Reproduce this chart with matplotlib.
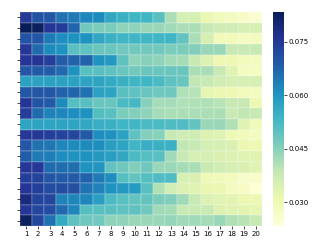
import numpy as np
import matplotlib
matplotlib.use("Agg")
import matplotlib.pyplot as plt
import seaborn as sns

# column labels along the bottom
col_labels = [str(i) for i in range(1, 21)]

# one list per heatmap row, top to bottom
row00 = [0.0744, 0.0702, 0.0696, 0.0654, 0.0642, 0.0624, 0.0618, 0.0564, 0.0546, 0.0534, 0.0534, 0.0503, 0.0413, 0.0353, 0.0353, 0.0311, 0.0293, 0.0281, 0.0269, 0.0251]
row01 = [0.0834, 0.0822, 0.0756, 0.0744, 0.0672, 0.0473, 0.0461, 0.0461, 0.0443, 0.0443, 0.0431, 0.0431, 0.0425, 0.0413, 0.0413, 0.0383, 0.0371, 0.0365, 0.0353, 0.0353]
row02 = [0.0702, 0.0696, 0.0642, 0.0612, 0.0606, 0.0606, 0.0564, 0.0546, 0.0534, 0.0534, 0.0534, 0.0534, 0.0534, 0.0491, 0.0413, 0.0353, 0.0293, 0.0293, 0.0281, 0.0281]
row03 = [0.0750, 0.0666, 0.0618, 0.0606, 0.0503, 0.0497, 0.0485, 0.0485, 0.0473, 0.0473, 0.0473, 0.0473, 0.0461, 0.0461, 0.0455, 0.0431, 0.0431, 0.0383, 0.0383, 0.0383]
row04 = [0.0756, 0.0756, 0.0738, 0.0684, 0.0678, 0.0678, 0.0606, 0.0594, 0.0497, 0.0443, 0.0449, 0.0443, 0.0425, 0.0419, 0.0383, 0.0341, 0.0305, 0.0305, 0.0293, 0.0281]
row05 = [0.0696, 0.0690, 0.0684, 0.0666, 0.0606, 0.0503, 0.0503, 0.0497, 0.0485, 0.0473, 0.0485, 0.0485, 0.0485, 0.0485, 0.0413, 0.0413, 0.0383, 0.0335, 0.0281, 0.0281]
row06 = [0.0576, 0.0576, 0.0576, 0.0576, 0.0576, 0.0570, 0.0570, 0.0558, 0.0546, 0.0534, 0.0534, 0.0521, 0.0497, 0.0485, 0.0389, 0.0383, 0.0365, 0.0353, 0.0353, 0.0353]
row07 = [0.0696, 0.0696, 0.0696, 0.0678, 0.0672, 0.0654, 0.0576, 0.0570, 0.0503, 0.0497, 0.0485, 0.0479, 0.0479, 0.0407, 0.0401, 0.0323, 0.0311, 0.0305, 0.0293, 0.0281]
row08 = [0.0756, 0.0702, 0.0690, 0.0618, 0.0509, 0.0503, 0.0485, 0.0485, 0.0521, 0.0527, 0.0449, 0.0419, 0.0419, 0.0407, 0.0407, 0.0407, 0.0401, 0.0383, 0.0383, 0.0305]
row09 = [0.0738, 0.0666, 0.0630, 0.0624, 0.0612, 0.0606, 0.0509, 0.0503, 0.0461, 0.0455, 0.0443, 0.0419, 0.0413, 0.0413, 0.0413, 0.0413, 0.0413, 0.0377, 0.0389, 0.0383]
row10 = [0.0570, 0.0570, 0.0570, 0.0570, 0.0570, 0.0564, 0.0552, 0.0546, 0.0534, 0.0534, 0.0521, 0.0521, 0.0515, 0.0515, 0.0491, 0.0431, 0.0431, 0.0407, 0.0335, 0.0293]
row11 = [0.0750, 0.0750, 0.0738, 0.0732, 0.0726, 0.0690, 0.0612, 0.0606, 0.0576, 0.0497, 0.0455, 0.0449, 0.0383, 0.0371, 0.0371, 0.0341, 0.0335, 0.0299, 0.0293, 0.0281]
row12 = [0.0696, 0.0654, 0.0648, 0.0624, 0.0618, 0.0618, 0.0612, 0.0582, 0.0570, 0.0534, 0.0552, 0.0546, 0.0546, 0.0389, 0.0383, 0.0353, 0.0353, 0.0347, 0.0311, 0.0305]
row13 = [0.0684, 0.0642, 0.0636, 0.0612, 0.0606, 0.0606, 0.0594, 0.0582, 0.0564, 0.0521, 0.0509, 0.0503, 0.0425, 0.0383, 0.0353, 0.0353, 0.0347, 0.0341, 0.0335, 0.0335]
row14 = [0.0750, 0.0750, 0.0666, 0.0660, 0.0660, 0.0606, 0.0600, 0.0491, 0.0479, 0.0455, 0.0479, 0.0431, 0.0431, 0.0419, 0.0413, 0.0377, 0.0365, 0.0353, 0.0347, 0.0335]
row15 = [0.0738, 0.0732, 0.0696, 0.0690, 0.0690, 0.0678, 0.0642, 0.0612, 0.0509, 0.0491, 0.0509, 0.0515, 0.0515, 0.0353, 0.0347, 0.0299, 0.0293, 0.0287, 0.0263, 0.0263]
row16 = [0.0756, 0.0738, 0.0714, 0.0714, 0.0708, 0.0654, 0.0630, 0.0606, 0.0594, 0.0588, 0.0503, 0.0407, 0.0365, 0.0341, 0.0335, 0.0317, 0.0311, 0.0281, 0.0269, 0.0239]
row17 = [0.0786, 0.0732, 0.0726, 0.0630, 0.0624, 0.0624, 0.0582, 0.0521, 0.0503, 0.0491, 0.0491, 0.0461, 0.0455, 0.0425, 0.0383, 0.0341, 0.0335, 0.0329, 0.0311, 0.0305]
row18 = [0.0756, 0.0726, 0.0714, 0.0666, 0.0624, 0.0509, 0.0503, 0.0503, 0.0497, 0.0497, 0.0473, 0.0425, 0.0419, 0.0383, 0.0377, 0.0377, 0.0341, 0.0335, 0.0329, 0.0323]
row19 = [0.0822, 0.0726, 0.0654, 0.0558, 0.0497, 0.0479, 0.0473, 0.0443, 0.0443, 0.0431, 0.0431, 0.0431, 0.0437, 0.0425, 0.0425, 0.0419, 0.0431, 0.0407, 0.0401, 0.0383]

cbar_ticks = [0.030, 0.045, 0.060, 0.075]

rows = [row00, row01, row02, row03, row04, row05, row06, row07, row08, row09,
        row10, row11, row12, row13, row14, row15, row16, row17, row18, row19]
data = np.array(rows)

fig = plt.figure(figsize=(3.32, 2.48), dpi=100)
ax = fig.add_axes([0.0602, 0.0887, 0.7289, 0.8629])
cax = fig.add_axes([0.822, 0.0887, 0.033, 0.8629])

sns.heatmap(data, ax=ax, cbar_ax=cax, cmap="YlGnBu", vmin=0.0233, vmax=0.0834,
            xticklabels=col_labels, yticklabels=[""] * len(rows),
            linewidths=0.1, linecolor=(1, 1, 1, 0.12),
            cbar_kws={"ticks": cbar_ticks, "format": "%.3f"})

ax.tick_params(axis="x", labelsize=5, length=2, width=0.5, pad=1.5, rotation=0)
ax.tick_params(axis="y", length=2, width=0.5)
cax.tick_params(labelsize=5, length=2, width=0.5, pad=1.5)

fig.savefig("out.png", dpi=100)
